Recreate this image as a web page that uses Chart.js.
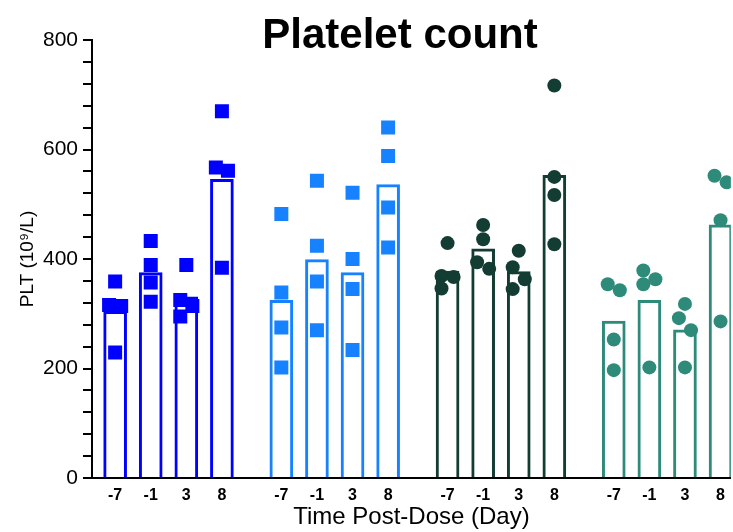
<!DOCTYPE html>
<html>
<head>
<meta charset="utf-8">
<script src="https://cdn.jsdelivr.net/npm/chart.js@4"></script>
<style>
  html, body { margin: 0; padding: 0; background: #fff; }
</style>
</head>
<body>
<canvas id="pltChart" width="733" height="532"></canvas>
<script>
// Days after dose, repeated under each group
const days = ['-7', '-1', '3', '8'];

// PLT (10^9/L), four animals per day, one array per group
const group1 = [[359, 316, 314, 229], [433, 389, 357, 322], [389, 325, 295, 314], [670, 567, 561, 384]];
const group2 = [[482, 339, 275, 202], [543, 424, 359, 270], [521, 400, 345, 234], [640, 588, 494, 421]];
const group3 = [[429, 369, 367, 346], [462, 436, 394, 382], [415, 385, 345, 363], [717, 550, 517, 427]];
const group4 = [[343, 354, 253, 197], [363, 379, 354, 202], [318, 292, 270, 202], [540, 552, 471, 286]];

const yTicks = [0, 200, 400, 600, 800];

const groups = [group1, group2, group3, group4];
const colors = ['#0000ff', '#1682ff', '#133d33', '#2e8b7a'];
const shapes = ['rect', 'rect', 'circle', 'circle'];
const groupStep = 4.67;   // gap between groups, in day slots
const jitterStep = 0.17;  // sideways shift for points that touch
const collide = 25;       // PLT units closer than this overlap

function slot(g, d) { return g * groupStep + d; }

function mean(a) { return a.reduce((s, v) => s + v, 0) / a.length; }

// spread points that would sit on top of each other
function spread(values) {
    const idx = values.map((v, i) => i).sort((a, b) => values[b] - values[a]);
    const off = values.map(() => 0);
    let cluster = [idx[0]];
    const flush = () => {
        if (cluster.length > 1) cluster.forEach((k, j) => { off[k] = (j % 2 ? 1 : -1) * jitterStep; });
    };
    for (let n = 1; n < idx.length; n++) {
        if (values[idx[n - 1]] - values[idx[n]] < collide) cluster.push(idx[n]);
        else { flush(); cluster = [idx[n]]; }
    }
    flush();
    return off;
}

const barData = [];
const barColors = [];
const tickPos = [];
groups.forEach((grp, g) => {
    grp.forEach((vals, d) => {
        barData.push({ x: slot(g, d), y: mean(vals) });
        barColors.push(colors[g]);
        tickPos.push(slot(g, d));
    });
});

const pointSets = groups.map((grp, g) => {
    const pts = [];
    grp.forEach((vals, d) => {
        const off = spread(vals);
        vals.forEach((v, i) => pts.push({ x: slot(g, d) + off[i], y: v }));
    });
    return {
        type: 'scatter',
        data: pts,
        pointStyle: shapes[g],
        pointRadius: shapes[g] === 'rect' ? 9.9 : 7,
        pointBackgroundColor: colors[g],
        pointBorderWidth: 0,
        order: 1
    };
});

const titlePlugin = {
    id: 'bigTitle',
    afterDraw(chart) {
        const ctx = chart.ctx;
        ctx.save();
        ctx.font = 'bold 42px "Liberation Sans", Arial, sans-serif';
        ctx.fillStyle = '#000';
        ctx.textAlign = 'center';
        ctx.textBaseline = 'alphabetic';
        ctx.fillText('Platelet count', 400, 48);
        ctx.restore();
    }
};

const ctx = document.getElementById('pltChart').getContext('2d');
new Chart(ctx, {
    type: 'bar',
    data: {
        datasets: [{
            type: 'bar',
            data: barData,
            backgroundColor: '#fff',
            borderColor: barColors,
            borderWidth: 3,
            borderSkipped: 'start',
            barThickness: 23,
            order: 2
        }].concat(pointSets)
    },
    options: {
        responsive: false,
        animation: false,
        layout: { autoPadding: false, padding: { top: 40, right: 0, left: 0, bottom: 0 } },
        plugins: {
            legend: { display: false },
            tooltip: { enabled: false }
        },
        scales: {
            x: {
                type: 'linear',
                offset: false,
                min: -0.65,
                max: 17.3,
                afterBuildTicks: function(scale) {
                    scale.ticks = tickPos.map(v => ({ value: v }));
                },
                afterFit: function(scale) { scale.height = 54; },
                border: { color: '#000', width: 2 },
                grid: { display: false, drawTicks: false, offset: false },
                ticks: {
                    autoSkip: false,
                    maxRotation: 0,
                    padding: 8,
                    color: '#000',
                    font: { family: '"Liberation Sans", Arial', size: 16, weight: 'bold' },
                    callback: function(value, index) { return days[index % days.length]; }
                },
                title: {
                    display: true,
                    text: 'Time Post-Dose (Day)',
                    color: '#000',
                    font: { family: '"Liberation Sans", Arial', size: 24 },
                    padding: { top: 0, bottom: 0 }
                }
            },
            y: {
                min: 0,
                max: 800,
                afterFit: function(scale) { scale.width = 92; },
                border: { color: '#000', width: 2 },
                grid: { drawOnChartArea: false, color: '#000', lineWidth: 2, tickLength: 9 },
                ticks: {
                    stepSize: 40,
                    autoSkip: false,
                    padding: 5,
                    color: '#000',
                    font: { family: '"Liberation Sans", Arial', size: 21 },
                    callback: function(value) { return yTicks.includes(value) ? value : ''; }
                },
                title: {
                    display: true,
                    text: 'PLT (10⁹/L)',
                    color: '#000',
                    font: { family: '"Liberation Sans", Arial', size: 19 },
                    padding: { top: 16, bottom: 0 }
                }
            }
        }
    },
    plugins: [titlePlugin]
});
</script>
</body>
</html>
